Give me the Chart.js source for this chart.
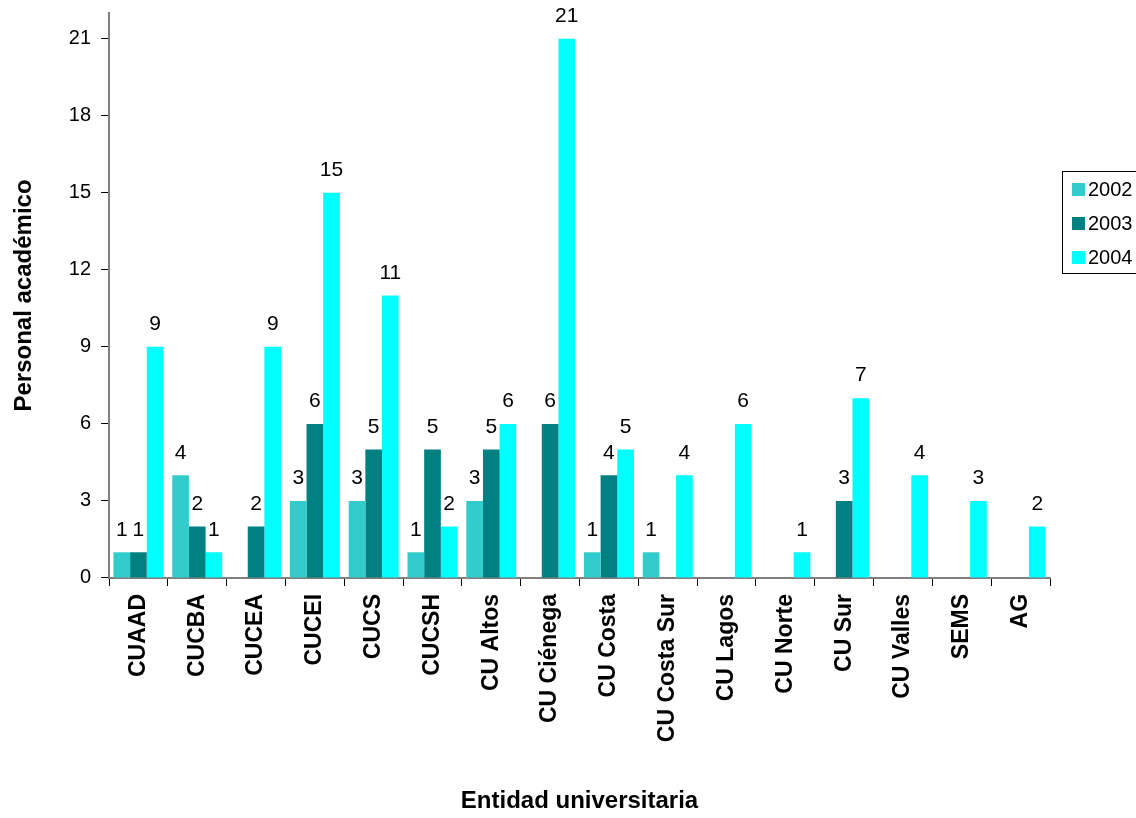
<!DOCTYPE html>
<html>
<head>
<meta charset="utf-8">
<script src="https://cdn.jsdelivr.net/npm/chart.js@4/dist/chart.umd.min.js"></script>
<style>
  html, body { margin: 0; padding: 0; background: #fff; }
  #wrap { width: 1136px; height: 818px; }
</style>
</head>
<body>
<div id="wrap"><canvas id="barChart" width="1136" height="818"></canvas></div>
<script>
const categories = ['CUAAD', 'CUCBA', 'CUCEA', 'CUCEI', 'CUCS', 'CUCSH', 'CU Altos', 'CU Ciénega',
  'CU Costa', 'CU Costa Sur', 'CU Lagos', 'CU Norte', 'CU Sur', 'CU Valles', 'SEMS', 'AG'];
const values2002 = [1, 4, null, 3, 3, 1, 3, null, 1, 1, null, null, null, null, null, null];
const values2003 = [1, 2, 2, 6, 5, 5, 5, 6, 4, null, null, null, 3, null, null, null];
const values2004 = [9, 1, 9, 15, 11, 2, 6, 21, 5, 4, 6, 1, 7, 4, 3, 2];
const yTicks = [0, 3, 6, 9, 12, 15, 18, 21];
const seriesNames = ['2002', '2003', '2004'];
const seriesColors = ['#33CCCC', '#008080', '#00FFFF'];

const FONT = 'Liberation Sans, Arial, sans-serif';
const NARROW = '"Liberation Sans Narrow", "Arial Narrow", Liberation Sans, sans-serif';

// values written above each bar
const barLabels = {
  id: 'barLabels',
  afterDatasetsDraw(chart) {
    const c = chart.ctx;
    c.save();
    c.font = '21px ' + NARROW;
    c.fillStyle = '#000';
    c.textAlign = 'center';
    c.textBaseline = 'bottom';
    chart.data.datasets.forEach((ds, i) => {
      chart.getDatasetMeta(i).data.forEach((bar, j) => {
        if (ds.data[j] == null) return;
        c.fillText(String(ds.data[j]), bar.x, bar.y - 12);
      });
    });
    c.restore();
  }
};

// boxed legend on the right
const boxLegend = {
  id: 'boxLegend',
  afterDraw(chart) {
    const c = chart.ctx;
    const x = 1062, y = 171, w = 80, h = 102;
    c.save();
    c.strokeStyle = '#000';
    c.lineWidth = 1;
    c.strokeRect(x + 0.5, y + 0.5, w, h);
    c.font = '20px ' + FONT;
    c.textBaseline = 'middle';
    c.textAlign = 'left';
    seriesNames.forEach((name, i) => {
      const cy = y + 18 + i * 34;
      c.fillStyle = seriesColors[i];
      c.fillRect(x + 10, cy - 6, 13, 13);
      c.fillStyle = '#000';
      c.fillText(name, x + 26, cy + 1);
    });
    c.restore();
  }
};

const ctx = document.getElementById('barChart').getContext('2d');
new Chart(ctx, {
  type: 'bar',
  data: {
    labels: categories,
    datasets: [
      { label: seriesNames[0], data: values2002, backgroundColor: seriesColors[0] },
      { label: seriesNames[1], data: values2003, backgroundColor: seriesColors[1] },
      { label: seriesNames[2], data: values2004, backgroundColor: seriesColors[2] }
    ]
  },
  options: {
    responsive: false,
    animation: false,
    devicePixelRatio: 1,
    layout: { padding: { top: 13, right: 86, bottom: 2, left: 10 } },
    datasets: { bar: { categoryPercentage: 0.85, barPercentage: 1.0 } },
    scales: {
      x: {
        grid: { offset: true, drawOnChartArea: false, drawTicks: true, tickLength: 8, color: '#000' },
        border: { color: '#808080', width: 2 },
        ticks: {
          color: '#000',
          font: { family: FONT, size: 23, weight: 'bold' },
          maxRotation: 90, minRotation: 90, autoSkip: false, padding: 8
        },
        title: {
          display: true, text: 'Entidad universitaria', color: '#000',
          font: { family: FONT, size: 24, weight: 'bold' }, padding: { top: 37, bottom: 0 }
        }
      },
      y: {
        min: 0, max: 22,
        afterBuildTicks: axis => {
          axis.ticks = yTicks.map(v => ({ value: v }));
        },
        afterFit: axis => { axis.paddingTop = 0; },
        grid: { drawOnChartArea: false, drawTicks: true, tickLength: 8, color: '#000' },
        border: { color: '#808080', width: 2 },
        ticks: { color: '#000', font: { family: FONT, size: 20 }, padding: 10 },
        title: {
          display: true, text: 'Personal académico', color: '#000',
          font: { family: FONT, size: 24, weight: 'bold' }, padding: { top: 0, bottom: 20 }
        }
      }
    },
    plugins: {
      legend: { display: false },
      tooltip: { enabled: false }
    }
  },
  plugins: [barLabels, boxLegend]
});
</script>
</body>
</html>
